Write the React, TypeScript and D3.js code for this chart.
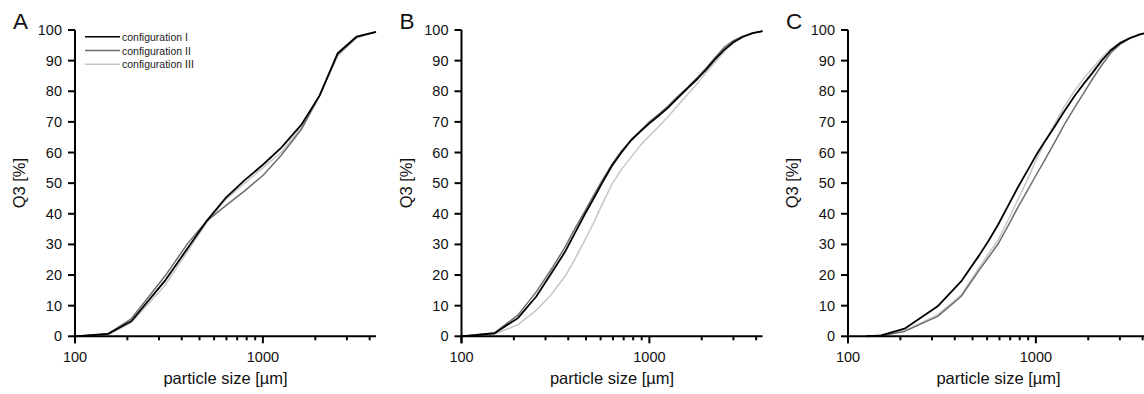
import React from 'react';
import * as d3 from 'd3';

// ---- data ----
const sizesA = [100, 150, 200, 300, 400, 500, 630, 800, 1000, 1250, 1600, 2000, 2500, 3150, 4000];
const sizesB = [100, 150, 200, 250, 300, 355, 400, 450, 500, 560, 630, 710, 800, 900, 1000, 1120, 1250, 1400, 1600, 1800, 2000, 2240, 2500, 2800, 3150, 3550, 4000];
const sizesC = [125, 150, 200, 300, 400, 500, 560, 630, 710, 800, 900, 1000, 1120, 1250, 1400, 1600, 1800, 2000, 2240, 2500, 2800, 3150, 3550, 4000];

const panelLabels = ['A', 'B', 'C'];
const seriesNames = ['configuration I', 'configuration II', 'configuration III'];

const aConfI = [0, 0.8, 5, 18, 29, 37.5, 45, 51, 56, 61.5, 69, 78.5, 92.4, 97.8, 99.4];
const aConfII = [0, 0.8, 5.8, 19.5, 30.5, 37.5, 42.5, 47.5, 52.5, 59, 67.5, 78.5, 92, 97.6, 99.3];
const aConfIII = [0, 0.5, 4.5, 16.5, 28, 37, 44.5, 50, 55, 60, 68, 78.5, 91.5, 97.5, 99.3];

const bConfI = [0, 1, 6, 13, 20.5, 27.5, 33.5, 39.5, 44.5, 50, 55.5, 60, 64, 67, 69.5, 72, 74.5, 77.5, 81, 84, 87, 90.5, 93.5, 96, 97.8, 99, 99.6];
const bConfII = [0, 1.1, 7, 14.5, 21.8, 29, 35, 40.5, 45.5, 50.8, 56, 60.5, 64.2, 67.3, 70, 72.5, 75, 78, 81.3, 84.5, 87.5, 91, 94.3, 96.5, 98, 99, 99.6];
const bConfIII = [0, 0.7, 3.8, 8.5, 13.6, 19.5, 25, 31, 36.5, 43, 49.5, 54.5, 58.5, 62.5, 65.5, 68.5, 71.5, 75, 79, 82.5, 86, 89.5, 93, 95.8, 97.7, 99, 99.6];

const cConfI = [0, 0.3, 2.5, 9.8, 17.9, 26.5, 31.2, 36.5, 42.5, 48.5, 54, 59, 63.8, 68.2, 73, 78.3, 82.5, 86, 90, 93.3, 95.7, 97.3, 98.5, 99.3];
const cConfII = [0, 0.2, 1.6, 6.5, 13, 21.7, 25.8, 30.2, 36, 42, 47.5, 52.5, 57.8, 63, 68.5, 74.5, 79.5, 84, 88.5, 92.5, 95.3, 97.2, 98.5, 99.3];
const cConfIII = [0, 0.2, 1.8, 7, 13.5, 22.5, 27, 31.5, 37.8, 44.5, 51, 57.5, 63.5, 69, 74.5, 80, 84.2, 87.5, 91, 93.8, 95.8, 97.3, 98.5, 99.3];

const xMajorTicks = [100, 1000];
const xMinorTicks = [190, 280, 370, 460, 550, 640, 730, 820, 910, 1900, 2800, 3700];
const yTicks = [0, 10, 20, 30, 40, 50, 60, 70, 80, 90, 100];

const panels = [
  { label: panelLabels[0], sizes: sizesA, series: [aConfI, aConfII, aConfIII] },
  { label: panelLabels[1], sizes: sizesB, series: [bConfI, bConfII, bConfIII] },
  { label: panelLabels[2], sizes: sizesC, series: [cConfI, cConfII, cConfIII] },
];

// ---- style / layout ----
const W = 1144;
const H = 394;
const panelX = [75, 461.5, 848];
const plotW = 301;
const yTop = 30;
const yBottom = 336.3;
const colors = ['#000000', '#6e6e6e', '#c6c6c6'];
const widths = [1.8, 1.5, 1.5];
const font = '"Liberation Sans", Arial, Helvetica, sans-serif';

function Panel({ x0, panel, showLegend }: { x0: number; panel: any; showLegend: boolean }) {
  const x = d3.scaleLog().domain([100, 4000]).range([x0, x0 + plotW]);
  const y = d3.scaleLinear().domain([0, 100]).range([yBottom, yTop]);
  const line = d3
    .line<[number, number]>()
    .x((d) => x(d[0]))
    .y((d) => y(d[1]));
  const order = [2, 1, 0];
  return (
    <g>
      {order.map((i) => {
        const pts: [number, number][] = panel.sizes.map((s: number, k: number) => [s, panel.series[i][k]]);
        return (
          <path
            key={i}
            d={line(pts) || ''}
            fill="none"
            stroke={colors[i]}
            strokeWidth={widths[i]}
            strokeLinejoin="round"
          />
        );
      })}
      <line x1={x0} x2={x0} y1={yTop} y2={yBottom + 7} stroke="#000" strokeWidth={2} />
      <line x1={x0 - 1} x2={x0 + plotW} y1={yBottom} y2={yBottom} stroke="#000" strokeWidth={2} />
      {yTicks.map((t) => (
        <g key={'y' + t}>
          <line x1={x0 - 7} x2={x0} y1={y(t)} y2={y(t)} stroke="#000" strokeWidth={2} />
          <text
            x={x0 - 13}
            y={y(t)}
            textAnchor="end"
            dominantBaseline="central"
            fontSize={14.5}
            fontFamily={font}
            fill="#111"
          >
            {t}
          </text>
        </g>
      ))}
      {xMajorTicks.map((t) => (
        <g key={'xm' + t}>
          <line x1={x(t)} x2={x(t)} y1={yBottom} y2={yBottom + 7} stroke="#000" strokeWidth={2} />
          <text x={x(t)} y={yBottom + 26} textAnchor="middle" fontSize={14.5} fontFamily={font} fill="#111">
            {t}
          </text>
        </g>
      ))}
      {xMinorTicks.map((t) => (
        <line key={'xn' + t} x1={x(t)} x2={x(t)} y1={yBottom} y2={yBottom + 4} stroke="#000" strokeWidth={2} />
      ))}
      <text x={x0 + plotW / 2} y={384} textAnchor="middle" fontSize={16.5} fontFamily={font} fill="#111">
        particle size [µm]
      </text>
      <text
        transform={`translate(${x0 - 56},${(yTop + yBottom) / 2}) rotate(-90)`}
        textAnchor="middle"
        dominantBaseline="central"
        fontSize={16.5}
        fontFamily={font}
        fill="#111"
      >
        Q3 [%]
      </text>
      <text x={x0 - 62} y={28.5} fontSize={22.5} fontFamily={font} fill="#111">
        {panel.label}
      </text>
      {showLegend &&
        seriesNames.map((name, i) => {
          const ly = 36.7 + i * 13.8;
          return (
            <g key={name}>
              <line x1={x0 + 10} x2={x0 + 45} y1={ly} y2={ly} stroke={colors[i]} strokeWidth={1.6} />
              <text x={x0 + 47} y={ly} dominantBaseline="central" fontSize={10.5} fontFamily={font} fill="#222">
                {name}
              </text>
            </g>
          );
        })}
    </g>
  );
}

export default function App() {
  return (
    <svg
      width={W}
      height={H}
      viewBox={`0 0 ${W} ${H}`}
      style={{ position: 'absolute', left: 0, top: 0, background: '#fff' }}
    >
      <rect x={0} y={0} width={W} height={H} fill="#fff" />
      {panels.map((p, i) => (
        <Panel key={p.label} x0={panelX[i]} panel={p} showLegend={i === 0} />
      ))}
    </svg>
  );
}
